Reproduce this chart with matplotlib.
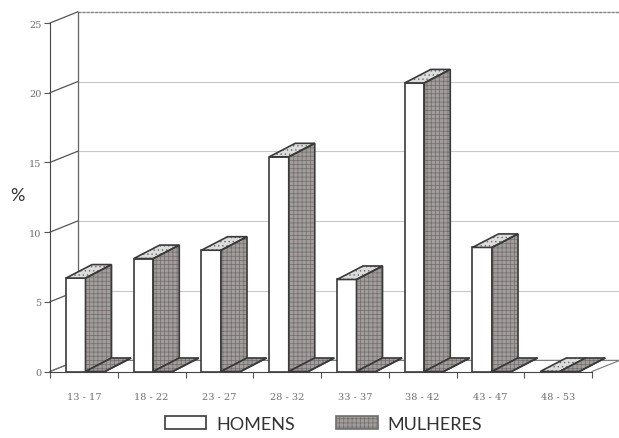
import matplotlib
matplotlib.use("Agg")
import matplotlib.pyplot as plt
from matplotlib.patches import Polygon, Patch

faixas = ["13 - 17", "18 - 22", "23 - 27", "28 - 32", "33 - 37", "38 - 42", "43 - 47", "48 - 53"]
homens = [6.7, 8.1, 8.7, 15.4, 6.6, 20.7, 8.9, 0.0]
mulheres = [0.0, 0.0, 0.0, 0.0, 0.0, 0.0, 0.0, 0.0]
yticks = [0, 5, 10, 15, 20, 25]

# oblique offsets (category units, percent units)
WDX, WDY = 0.41, 0.8     # depth of walls
BDX, BDY = 0.384, 0.97   # depth of bars
OFF, LARG = 0.236, 0.288  # bar offset inside category, front width

LINHA = "#3a3a3a"
CINZA = "#a39c9c"
TOPO = "#dcdcdc"

plt.rcParams["hatch.linewidth"] = 0.5

fig = plt.figure(figsize=(6.19, 4.39), dpi=100)
ax = fig.add_axes([50 / 619, (439 - 372.5) / 439, 542 / 619, 348.5 / 439])
n = len(faixas)
ax.set_xlim(0, n)
ax.set_ylim(0, 25)

# back wall, gridlines, left wall, floor
ax.add_patch(Polygon([(WDX, WDY), (n + WDX, WDY), (n + WDX, 25 + WDY), (WDX, 25 + WDY)],
                     closed=True, facecolor="white", edgecolor="#bbbbbb", lw=0.8, clip_on=False, zorder=1))
for v in yticks[1:]:
    ax.plot([WDX, n + WDX], [v + WDY, v + WDY], color="#c8c8c8" if v < 25 else "#888888",
            lw=0.8 if v < 25 else 1.0, ls="-" if v < 25 else (0, (2, 1)), clip_on=False, zorder=1.5)
for v in yticks:
    ax.plot([0, WDX], [v, v + WDY], color="#555555", lw=0.9, clip_on=False, zorder=2)
ax.plot([WDX, WDX], [WDY, 25 + WDY], color="#666666", lw=0.9, clip_on=False, zorder=2)
ax.plot([0, WDX, n + WDX, n], [0, WDY, WDY, 0], color="#777777", lw=0.8, clip_on=False, zorder=2)


def caixa(x0, h, cor_lado, hatch_lado, cor_topo, hatch_topo, z):
    ax.bar(x0, h, width=LARG, align="edge", facecolor="white", edgecolor=LINHA, lw=1.2, zorder=z)
    lado = [(x0 + LARG, 0), (x0 + LARG + BDX, BDY), (x0 + LARG + BDX, h + BDY), (x0 + LARG, h)]
    topo = [(x0, h), (x0 + LARG, h), (x0 + LARG + BDX, h + BDY), (x0 + BDX, h + BDY)]
    for pts, cor, ht in [(lado, cor_lado, hatch_lado), (topo, cor_topo, hatch_topo)]:
        ax.add_patch(Polygon(pts, closed=True, facecolor=cor, edgecolor="#6e6e6e", hatch=ht,
                             lw=0, clip_on=False, zorder=z))
        ax.add_patch(Polygon(pts, closed=True, fill=False, edgecolor=LINHA, lw=1.2,
                             clip_on=False, zorder=z + 0.1))


for i in range(n):
    x0 = i + OFF
    caixa(x0, homens[i], CINZA, "++++", TOPO, "....", 3 + i)
    caixa(x0 + LARG, mulheres[i], CINZA, "++++", CINZA, "++++", 3.5 + i)

# axes
for s in ["top", "right"]:
    ax.spines[s].set_visible(False)
ax.spines["left"].set_color("#444444")
ax.spines["bottom"].set_color("#444444")
ax.spines["left"].set_zorder(2)
ax.set_yticks(yticks)
ax.set_yticklabels([str(v) for v in yticks], family="DejaVu Serif", fontsize=7, color="#707070")
ax.tick_params(axis="y", direction="out", length=4, width=0.8, color="#555555", pad=2)
ax.set_xticks([i + 0.5 for i in range(n)])
ax.set_xticklabels(faixas, family="DejaVu Serif", fontsize=7, color="#707070")
ax.set_xticks(range(n + 1), minor=True)
ax.tick_params(axis="x", which="major", length=0, pad=15)
ax.tick_params(axis="x", which="minor", direction="out", length=4, width=0.8, color="#555555")
ax.set_facecolor("none")

fig.text(17 / 619, 1 - 196 / 439, "%", fontsize=13, family="Lato", color="#333333", ha="center", va="center")

handles = [Patch(facecolor="white", edgecolor=LINHA, lw=1.2),
           Patch(facecolor=CINZA, edgecolor="#6e6e6e", hatch="++++", lw=1.2)]
fig.legend(handles, ["HOMENS", "MULHERES"], loc="center", bbox_to_anchor=(323.5 / 619, 1 - 425 / 439),
           ncol=2, frameon=False, prop={"family": "Lato", "size": 13}, handlelength=2.3,
           handleheight=0.75, handletextpad=0.55, columnspacing=2.3, labelcolor="#333333")

fig.savefig("out.png", dpi=100)
